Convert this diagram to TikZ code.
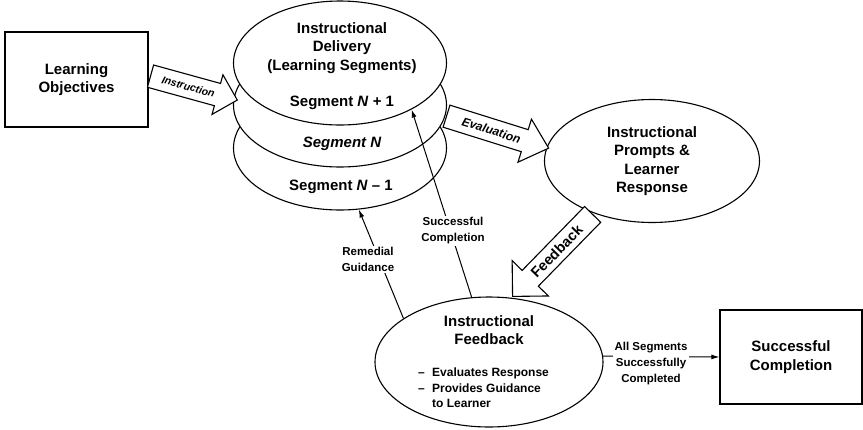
\documentclass[tikz,border=0pt]{standalone}
\usepackage{fontspec}
\setmainfont{Liberation Sans}
\usetikzlibrary{shapes.geometric,shapes.arrows,arrows.meta}
\begin{document}
\begin{tikzpicture}[x=1pt,y=-1pt,
  main/.style={font=\bfseries\fontsize{15}{18.5}\selectfont, align=center, inner sep=1pt},
  small/.style={font=\bfseries\fontsize{11.5}{16}\selectfont, align=center, inner sep=1.5pt, fill=white},
  ellip/.style={ellipse, draw, line width=1.1pt, fill=white, inner sep=0pt},
  boxst/.style={rectangle, draw, line width=1.2pt, inner sep=0pt},
  conn/.style={line width=1pt, -{Latex[length=8pt,width=5pt]}},
  blockarrow/.style={single arrow, draw, fill=white, line width=1.1pt, anchor=tail,
    single arrow tip angle=90, inner xsep=1pt}]
\useasboundingbox (0,0) rectangle (863,429);

% boxes
\node[boxst, main, minimum width=143pt, minimum height=95pt] (lo) at (76.5,79.5) {Learning\\Objectives};
\node[boxst, main, minimum width=142pt, minimum height=94pt] (sc) at (791,357) {Successful\\Completion};

% stacked segment ellipses
\node[ellip, minimum width=213pt, minimum height=124pt] (bot) at (340,148) {};
\node[ellip, minimum width=213pt, minimum height=124pt] (mid) at (340,105) {};
\node[ellip, minimum width=213pt, minimum height=124pt] (top) at (340,63) {};
\node[main] (deliv) at (342,48) {Instructional\\Delivery\\(Learning Segments)};
\node[main] (sn1) at (342,103) {Segment \textit{N} + 1};
\node[main] (sn0) at (342,144) {\itshape Segment N};
\node[main] (snm) at (341,187) {Segment \textit{N} – 1};

% prompts ellipse
\node[ellip, main, minimum width=215pt, minimum height=123pt] (pr) at (652,161) {Instructional\\Prompts \&\\Learner\\Response};

% feedback ellipse
\node[ellip, minimum width=228pt, minimum height=130pt] (fb) at (489,362) {};
\node[main] (fbt) at (489,330) {Instructional\\Feedback};
\node[font=\bfseries\fontsize{12}{15.5}\selectfont, align=left, anchor=west, inner sep=0pt] (fbl) at (418,388)
  {\makebox[14pt][l]{–}Evaluates Response\\\makebox[14pt][l]{–}Provides Guidance\\\makebox[14pt][l]{}to Learner};

% block arrows
\node[blockarrow, rotate=-15.4, minimum height=90pt, single arrow head extend=9pt,
  inner ysep=7.2pt, text height=7.6pt, text depth=0pt,
  font=\bfseries\itshape\fontsize{10.5}{12}\selectfont] (ins) at (150,76) {Instruction};
\node[blockarrow, rotate=-17.4, minimum height=107pt, single arrow head extend=11pt,
  single arrow tip angle=84, inner ysep=6.7pt, text height=8.6pt, text depth=0pt,
  font=\bfseries\itshape\fontsize{12}{13}\selectfont] (eva) at (446,116) {Evaluation};
\node[blockarrow, rotate=45.7, shape border rotate=180, minimum height=114.6pt,
  single arrow head extend=14pt, inner ysep=5.5pt, text height=10.5pt, text depth=0pt,
  font=\bfseries\fontsize{14.5}{16}\selectfont] (fdb) at (593,214) {Feedback};

% thin connectors
\draw[conn] (fb.105) -- (top.327);
\draw[conn] (fb.153) -- (bot.287);
\draw[conn] (fb.3) -- (sc.west);

% connector labels
\node[small] (scl) at (453,231) {Successful\\Completion};
\node[small] (rgl) at (368,259.5) {Remedial\\Guidance};
\node[small] (asl) at (651,364) {All Segments\\Successfully\\Completed};
\end{tikzpicture}
\end{document}
